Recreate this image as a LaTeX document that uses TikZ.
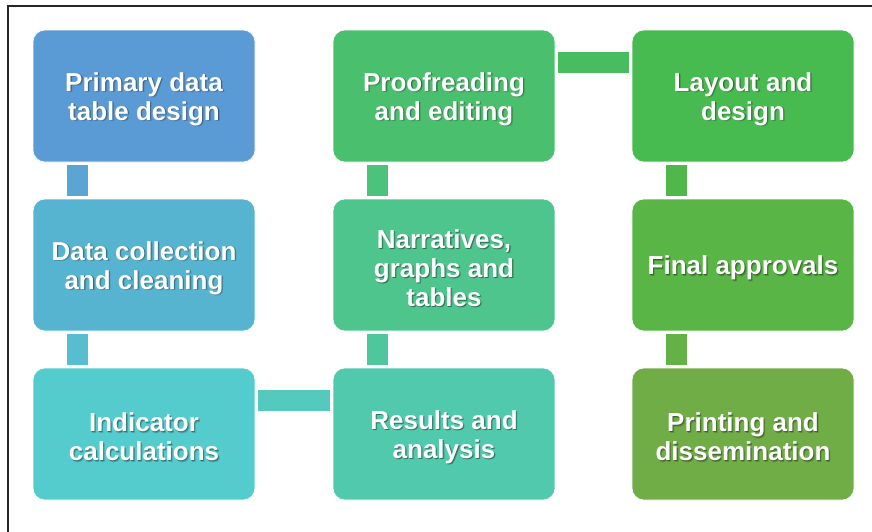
\documentclass[tikz,border=0pt]{standalone}
\usepackage{fontspec}
\setmainfont{Liberation Sans}
\usetikzlibrary{calc}

% stage colours, blue to green
\definecolor{s1}{RGB}{91,155,213}
\definecolor{s2}{RGB}{87,180,209}
\definecolor{s3}{RGB}{84,204,205}
\definecolor{s4}{RGB}{81,201,173}
\definecolor{s5}{RGB}{77,197,141}
\definecolor{s6}{RGB}{74,192,110}
\definecolor{s7}{RGB}{71,187,79}
\definecolor{s8}{RGB}{89,181,70}
\definecolor{s9}{RGB}{112,173,71}

\tikzset{
  stagebox/.style={rectangle, rounded corners=12pt, draw=white, line width=0.6pt,
    minimum width=222pt, minimum height=132pt, inner sep=0pt},
  stagetext/.style={text=white, align=center, inner sep=0pt,
    font=\fontsize{26}{29}\selectfont\bfseries},
  frameline/.style={draw=black!85, line width=1.3pt}
}

% a box with its white label and a soft dark shadow behind the label
\newcommand{\stage}[4]{%
  \node[stagebox, fill=#3] (#1) at (#2) {};
  \node[stagetext, text=black, opacity=0.18, xshift=1.6pt, yshift=-4.6pt] (#1-halo) at (#2) {#4};
  \node[stagetext, text=black, opacity=0.30, xshift=0.8pt, yshift=-3.8pt] (#1-shadow) at (#2) {#4};
  \node[stagetext, yshift=-3pt] (#1-label) at (#2) {#4};
}
% vertical link bar between an upper and a lower box
\newcommand{\vlink}[3]{%
  \fill[#3] ($(#1.south west)+(34,3)$) rectangle ($(#2.north west)+(55,-3)$);
}
% horizontal link bar between a left and a right box
\newcommand{\hlink}[3]{%
  \fill[#3] ($(#1.north east)+(3,22)$) rectangle ($(#2.north west)+(-3,43)$);
}

\begin{document}
\begin{tikzpicture}[x=1pt, y=-1pt]
  \fill[white] (0,0) rectangle (872,531);
  \useasboundingbox (0,0) rectangle (872,531);

  % partial outer frame
  \coordinate (fbl) at (8,540);
  \coordinate (ftl) at (8,6);
  \coordinate (ftr) at (880,6);
  \draw[frameline] (fbl) -- (ftl) -- (ftr);

  \stage{p1}{144,96}{s1}{Primary data\\table design}
  \stage{p2}{144,265}{s2}{Data collection\\and cleaning}
  \stage{p3}{144,434}{s3}{Indicator\\calculations}
  \stage{p4}{444,434}{s4}{Results and\\analysis}
  \stage{p5}{444,265}{s5}{Narratives,\\graphs and\\tables}
  \stage{p6}{444,96}{s6}{Proofreading\\and editing}
  \stage{p7}{743,96}{s7}{Layout and\\design}
  \stage{p8}{743,265}{s8}{Final approvals}
  \stage{p9}{743,434}{s9}{Printing and\\dissemination}

  \vlink{p1}{p2}{s1!60!s2}
  \vlink{p2}{p3}{s2!60!s3}
  \hlink{p3}{p4}{s3!50!s4}
  \vlink{p5}{p4}{s4!50!s5}
  \vlink{p6}{p5}{s5!50!s6}
  \hlink{p6}{p7}{s6!50!s7}
  \vlink{p7}{p8}{s7!50!s8}
  \vlink{p8}{p9}{s8!50!s9}
\end{tikzpicture}
\end{document}
